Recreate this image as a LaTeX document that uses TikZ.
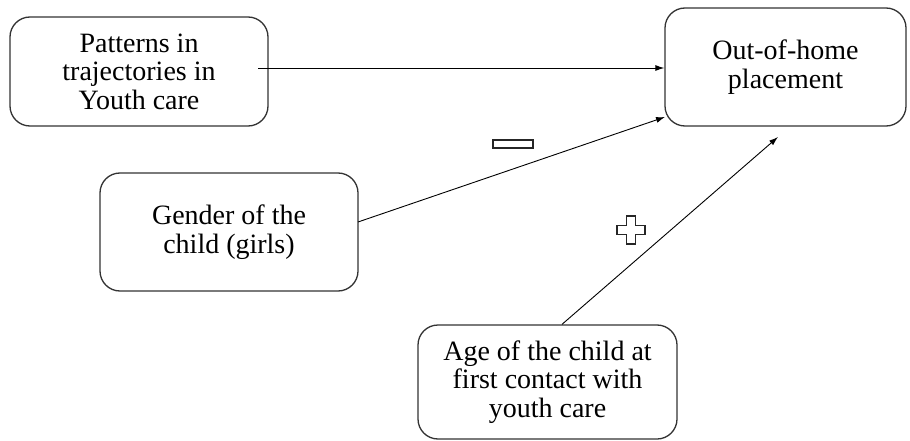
\documentclass[tikz,border=0pt]{standalone}
\usepackage{fontspec}
\setmainfont{Liberation Serif}
\usetikzlibrary{arrows.meta}

\begin{document}
\begin{tikzpicture}[x=1pt,y=1pt,yscale=-1,xscale=1,
  factor/.style={draw=black!80,line width=1.3pt,rounded corners=20pt,align=center,
    inner sep=0pt,font=\fontsize{28}{28.5}\selectfont},
  link/.style={line width=0.9pt,-{Latex[length=9pt,width=6pt]}},
  sign/.style={draw=black!85,line width=1.4pt}]
\useasboundingbox (0,0) rectangle (910,441);

% Text Node
\node [factor,minimum width=258pt,minimum height=109pt] (patterns) at (139,71.5) {Patterns in\\trajectories in\\Youth care};
% Text Node
\node [factor,minimum width=241pt,minimum height=118pt] (placement) at (785.5,67) {Out-of-home\\placement};
% Text Node
\node [factor,minimum width=258pt,minimum height=118pt] (gender) at (229,232) {Gender of the\\child (girls)};
% Text Node
\node [factor,minimum width=259pt,minimum height=114pt] (age) at (547.5,382) {Age of the child at\\first contact with\\youth care};

%Straight Lines
\coordinate (patternsout) at (258,68);
\coordinate (genderout) at (358,222);
\coordinate (agein) at (778,137);
\draw [link] (patternsout) -- (patternsout -| placement.west);
\draw [link] (genderout) -- (665,117);
\draw [link] (age.north -| 562,0) -- (agein);

%Shape: Minus
\draw [sign] (493,140) rectangle (533,148);
%Shape: Plus
\draw [sign] (626.5,216) -- (635.5,216) -- (635.5,225.5) -- (645,225.5) -- (645,234.5) -- (635.5,234.5) -- (635.5,244) -- (626.5,244) -- (626.5,234.5) -- (617,234.5) -- (617,225.5) -- (626.5,225.5) -- cycle;

\end{tikzpicture}
\end{document}
